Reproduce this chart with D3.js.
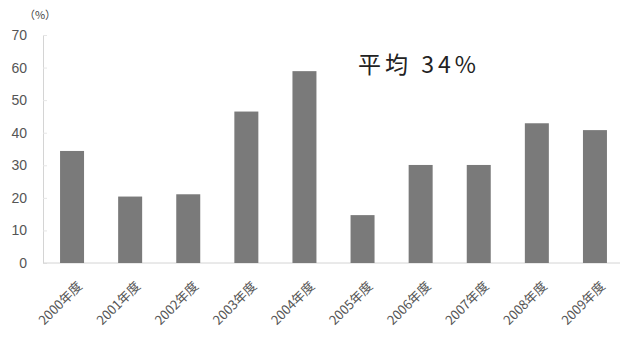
<!DOCTYPE html>
<html>
<head>
<meta charset="utf-8">
<script src="https://cdn.jsdelivr.net/npm/d3@7"></script>
<style>
  body { margin: 0; background: #fff; }
  svg { display: block; font-family: "Noto Sans CJK JP", "Noto Sans", sans-serif; }
</style>
</head>
<body>
<div id="chart"></div>
<script>
const categories = ["2000年度", "2001年度", "2002年度", "2003年度", "2004年度",
                    "2005年度", "2006年度", "2007年度", "2008年度", "2009年度"];
const values = [34.4, 20.4, 21.1, 46.5, 58.9, 14.7, 30.1, 30.1, 42.9, 40.8];
const yTicks = [0, 10, 20, 30, 40, 50, 60, 70];
const unitLabel = "（%）";
const averageLabel = "平均 34%";

function drawChart(containerId) {
  const width = 620, height = 356;
  const left = 43, right = 624, top = 35, bottom = 263;

  const svg = d3.select(`#${containerId}`)
    .append("svg")
      .attr("width", width)
      .attr("height", height);

  const x = d3.scaleBand()
      .domain(categories)
      .range([left, right])
      .paddingInner(0.587)
      .paddingOuter(0.2935);

  const y = d3.scaleLinear()
      .domain([0, 70])
      .range([bottom, top]);

  // y axis
  const yAxis = svg.append("g")
      .attr("transform", `translate(${left},0)`)
      .call(d3.axisLeft(y).tickValues(yTicks).tickSize(-4).tickPadding(16));
  yAxis.select(".domain").attr("stroke", "#d4d4d4");
  yAxis.selectAll(".tick line").attr("stroke", "#e6e6e6");
  yAxis.selectAll("text")
      .attr("fill", "#555")
      .style("font-size", "14px")
      .style("font-family", "'Liberation Sans', sans-serif");

  // baseline
  svg.append("line")
      .attr("x1", left).attr("x2", width)
      .attr("y1", y(0)).attr("y2", y(0))
      .attr("stroke", "#d4d4d4");

  // bars
  svg.append("g")
    .selectAll("rect")
    .data(values)
    .join("rect")
      .attr("x", (d, i) => x(categories[i]))
      .attr("y", d => y(d))
      .attr("width", x.bandwidth())
      .attr("height", d => y(0) - y(d))
      .attr("fill", "#7a7a7a");

  // x labels
  svg.append("g")
    .selectAll("text")
    .data(categories)
    .join("text")
      .attr("transform", d => `translate(${x(d) + x.bandwidth() / 2 + 11},${y(0) + 24}) rotate(-45)`)
      .attr("text-anchor", "end")
      .attr("fill", "#555")
      .style("font-size", "13px")
      .text(d => d);

  // unit
  svg.append("text")
      .attr("x", 40)
      .attr("y", 19)
      .attr("text-anchor", "middle")
      .attr("fill", "#444")
      .style("font-size", "11px")
      .text(unitLabel);

  // average annotation
  svg.append("text")
      .attr("x", 358)
      .attr("y", 73)
      .attr("fill", "#222")
      .style("font-size", "23px")
      .style("letter-spacing", "4px")
      .text(averageLabel);
}

drawChart("chart");
</script>
</body>
</html>
